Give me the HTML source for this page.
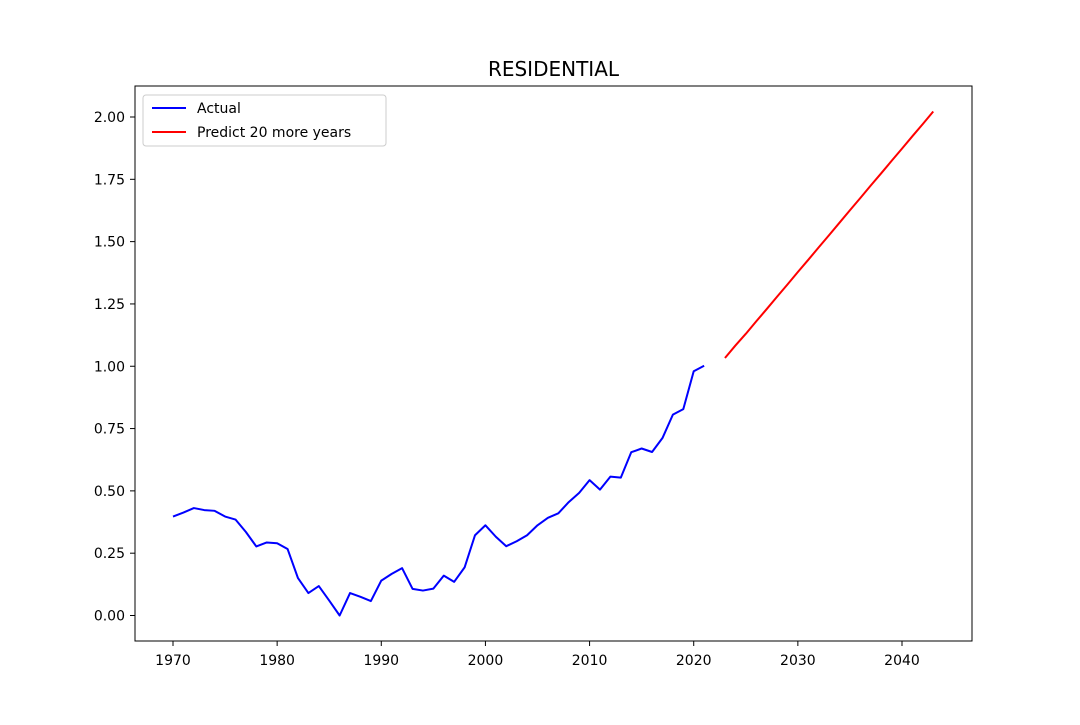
<!DOCTYPE html>
<html><head><meta charset="utf-8"><style>
body{margin:0;background:#fff;}
svg text{font-family:"DejaVu Sans","Liberation Sans",sans-serif;}
</style></head><body>
<svg id="chart" width="1080" height="720">
<rect width="1080" height="720" fill="#fff"/>
<text x="553.5" y="76" font-size="20" text-anchor="middle">RESIDENTIAL</text>
<g id="ticks"></g>
<g id="series"></g>
<rect x="135" y="86" width="837" height="555" fill="none" stroke="#000" stroke-width="1"/>
<g>
<rect x="143" y="95" width="243" height="51" rx="3" fill="#fff" stroke="#ccc"/>
<line x1="152" y1="108" x2="186" y2="108" stroke="#0000ff" stroke-width="2"/>
<text x="197" y="113" font-size="14">Actual</text>
<line x1="152" y1="132" x2="186" y2="132" stroke="#ff0000" stroke-width="2"/>
<text x="197" y="137" font-size="14">Predict 20 more years</text>
</g>
</svg>
<script>
const actualYears=[1970,1971,1972,1973,1974,1975,1976,1977,1978,1979,1980,1981,1982,1983,1984,1985,1986,1987,1988,1989,1990,1991,1992,1993,1994,1995,1996,1997,1998,1999,2000,2001,2002,2003,2004,2005,2006,2007,2008,2009,2010,2011,2012,2013,2014,2015,2016,2017,2018,2019,2020,2021];
const actualValues=[0.397,0.413,0.431,0.423,0.420,0.397,0.385,0.335,0.277,0.293,0.290,0.267,0.150,0.090,0.118,0.060,0.000,0.090,0.075,0.058,0.140,0.167,0.190,0.107,0.100,0.108,0.160,0.135,0.193,0.322,0.362,0.316,0.278,0.298,0.322,0.362,0.392,0.410,0.455,0.492,0.543,0.505,0.557,0.553,0.655,0.670,0.656,0.712,0.806,0.828,0.980,1.002];
const predYears=[2023,2024,2025,2026,2027,2028,2029,2030,2031,2032,2033,2034,2035,2036,2037,2038,2039,2040,2041,2042,2043];
const predValues=[1.033,1.083,1.130,1.180,1.229,1.279,1.328,1.378,1.427,1.477,1.526,1.576,1.626,1.675,1.725,1.774,1.824,1.873,1.923,1.972,2.022];
const xTicks=[1970,1980,1990,2000,2010,2020,2030,2040];
const yTicks=[0,0.25,0.5,0.75,1.0,1.25,1.5,1.75,2.0];
const NS='http://www.w3.org/2000/svg';
const xs=y=>173+(y-1970)*(902-173)/70;
const ys=v=>615.5-v*249.25;
const tg=document.getElementById('ticks');
xTicks.forEach(t=>{
 const l=document.createElementNS(NS,'line');
 l.setAttribute('x1',xs(t));l.setAttribute('x2',xs(t));l.setAttribute('y1',641);l.setAttribute('y2',646);l.setAttribute('stroke','#000');
 
 
 tg.appendChild(l);
 const tx=document.createElementNS(NS,'text');
 tx.setAttribute('x',xs(t));tx.setAttribute('y',665);tx.setAttribute('font-size','14');tx.setAttribute('text-anchor','middle');tx.textContent=t;
 
 
 tg.appendChild(tx);
});
yTicks.forEach(t=>{
 const l=document.createElementNS(NS,'line');
 l.setAttribute('x1',130);l.setAttribute('x2',135);l.setAttribute('y1',ys(t));l.setAttribute('y2',ys(t));l.setAttribute('stroke','#000');
 
 
 tg.appendChild(l);
 const tx=document.createElementNS(NS,'text');
 tx.setAttribute('x',125);tx.setAttribute('y',ys(t)+5);tx.setAttribute('font-size','14');tx.setAttribute('text-anchor','end');tx.textContent=t.toFixed(2);
 
 
 tg.appendChild(tx);
});
const sg=document.getElementById('series');
function line(xa,va,c,name){
 const p=document.createElementNS(NS,'polyline');
 p.setAttribute('points',xa.map((x,i)=>xs(x)+','+ys(va[i])).join(' '));
 p.setAttribute('fill','none');p.setAttribute('stroke',c);p.setAttribute('stroke-width','2');p.setAttribute('stroke-linejoin','round');
 
 
 sg.appendChild(p);
}
line(actualYears,actualValues,'#0000ff','actual-line');
line(predYears,predValues,'#ff0000','predict-line');
</script>
</body></html>
